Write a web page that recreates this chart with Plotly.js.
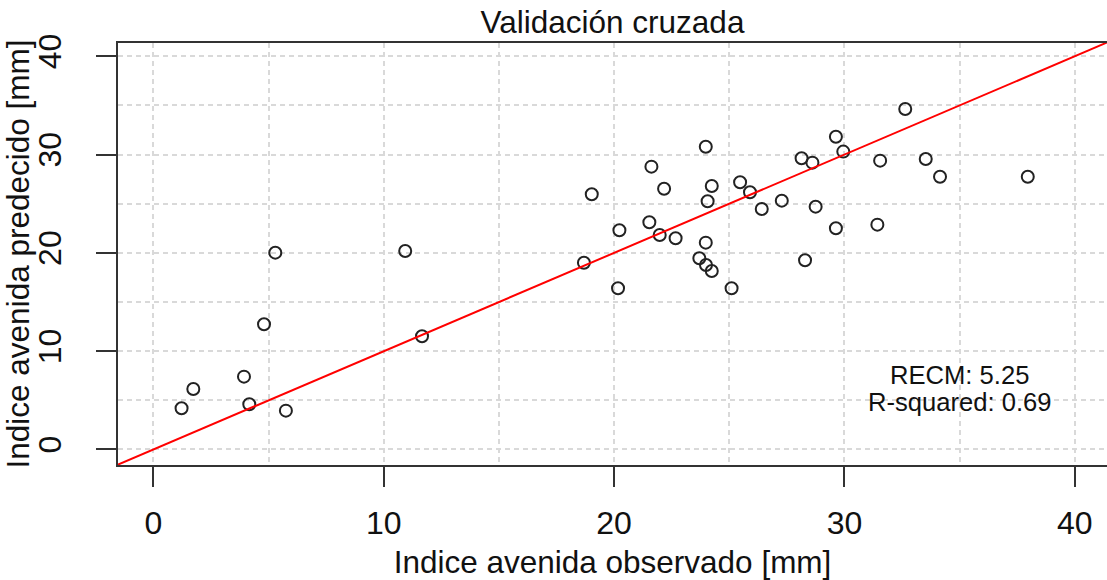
<!DOCTYPE html>
<html>
<head>
<meta charset="utf-8">
<script src="https://cdn.plot.ly/plotly-3.0.1.min.js"></script>
<style>
  html, body { margin: 0; padding: 0; background: #ffffff; }
  #chart { width: 1107px; height: 580px; }
</style>
</head>
<body>
<div id="chart"></div>
<script>
// Observed vs. predicted flood index [mm] (cross-validation)
const observado = [1.22, 1.73, 3.93, 4.16, 4.80, 5.29, 5.75, 10.93, 11.66, 18.69,
  19.03, 20.17, 20.23, 21.53, 21.62, 21.98, 22.17, 22.67, 23.70, 23.98,
  23.99, 23.98, 24.06, 24.24, 24.24, 25.10, 25.47, 25.90, 26.41, 27.28,
  28.14, 28.29, 28.61, 28.75, 29.63, 29.63, 29.95, 31.43, 31.55, 32.64,
  33.53, 34.15, 37.96];
const predecido = [4.19, 6.15, 7.41, 4.60, 12.74, 20.02, 3.95, 20.19, 11.52, 19.00,
  25.96, 16.40, 22.30, 23.11, 28.77, 21.82, 26.53, 21.48, 19.45, 30.80,
  18.77, 21.04, 25.25, 18.16, 26.81, 16.40, 27.18, 26.16, 24.47, 25.31,
  29.62, 19.25, 29.18, 24.70, 31.82, 22.50, 30.30, 22.87, 29.38, 34.64,
  29.55, 27.75, 27.75];

// 1:1 reference line (y = x)
const lineaX = [-5, 50];
const lineaY = [-5, 50];

const tickVals = [0, 10, 20, 30, 40];
const tickText = ["0", "10", "20", "30", "40"];

const chartTitle = "Validación cruzada";
const xTitle = "Indice avenida observado [mm]";
const yTitle = "Indice avenida predecido [mm]";
const statsLines = ["RECM: 5.25", "R-squared: 0.69"];
const statsX = [35.0, 35.0];
const statsY = [7.57, 4.81];

const FONT = "Liberation Sans, Arial, Helvetica, sans-serif";
const AXC = "#333333";
const GRIDC = "#d9d9d9";
const TXT = "#111111";

const traces = [
  {
    x: observado, y: predecido, type: "scatter", mode: "markers",
    marker: { symbol: "circle-open", size: 12, color: "#222222", line: { width: 2, color: "#222222" } },
    hoverinfo: "x+y", showlegend: false
  },
  {
    x: lineaX, y: lineaY, type: "scatter", mode: "lines",
    line: { color: "#ff0000", width: 2 }, hoverinfo: "skip", showlegend: false
  }
];

function axis(range, isY) {
  return {
    range: range, autorange: false,
    tickmode: "array", tickvals: tickVals, ticktext: tickText,
    tickangle: isY ? -90 : 0,
    ticks: "outside", ticklen: 20, tickwidth: 2, tickcolor: AXC,
    ticklabelstandoff: isY ? 22 : 9,
    tickfont: { family: FONT, size: 32, color: TXT },
    showline: true, linecolor: AXC, linewidth: 2, mirror: !isY,
    zeroline: false,
    showgrid: true, gridcolor: GRIDC, gridwidth: 1.5, griddash: "5px,4px",
    minor: { tick0: 0, dtick: 5, showgrid: true, gridcolor: GRIDC, gridwidth: 1.5, griddash: "5px,4px", ticks: "" },
    title: { text: isY ? yTitle : xTitle, font: { family: FONT, size: 31.5, color: TXT }, standoff: isY ? 14 : 22 }
  };
}

const layout = {
  width: 1107, height: 580,
  paper_bgcolor: "#ffffff", plot_bgcolor: "#ffffff",
  margin: { l: 118, r: 0, t: 43, b: 115, pad: 0 },
  font: { family: FONT, color: TXT, size: 32 },
  title: {
    text: chartTitle, font: { family: FONT, size: 31.5, color: TXT },
    x: 0.5, xref: "paper", y: 1 - 22 / 580, yref: "container", yanchor: "middle"
  },
  xaxis: axis([-1.54, 41.40], false),
  yaxis: axis([-1.58, 41.35], true),
  annotations: statsLines.map((t, i) => ({
    x: statsX[i], y: statsY[i], xref: "x", yref: "y",
    text: t, showarrow: false, xanchor: "center", yanchor: "middle",
    font: { family: FONT, size: 25.6, color: TXT }
  }))
};

Plotly.newPlot("chart", traces, layout, { displayModeBar: false });
</script>
</body>
</html>
